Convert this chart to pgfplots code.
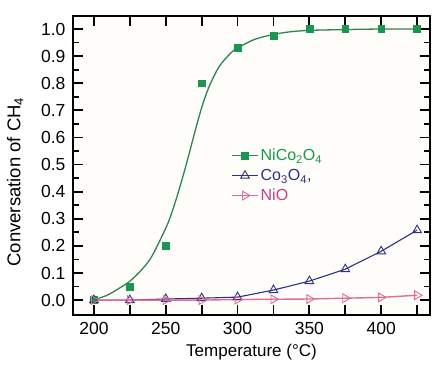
\documentclass[border=0pt]{standalone}
\usepackage{pgfplots}
\pgfplotsset{compat=1.18}
\usepackage{fontspec}
\setmainfont{Liberation Sans}
\definecolor{bgc}{RGB}{255,253,249}
\definecolor{gmark}{RGB}{26,150,80}
\definecolor{gline}{RGB}{50,130,85}
\definecolor{navy}{RGB}{45,50,125}
\definecolor{pinkl}{RGB}{220,110,155}
\definecolor{pinkt}{RGB}{200,60,130}
\begin{document}
\begin{tikzpicture}
\path[use as bounding box, fill=white] (-73pt,-50pt) rectangle (366pt,315pt);
\begin{axis}[
  scale only axis, width=357pt, height=299pt,
  xmin=185.4, xmax=434, ymin=-0.055, ymax=1.048,
  axis background/.style={fill=bgc},
  axis line style={line width=1.8pt},
  xtick={200,225,...,425},
  xticklabels={200,,250,,300,,350,,400,},
  ytick={0,0.1,...,1.0},
  minor ytick={0.05,0.15,...,0.95},
  yticklabel style={/pgf/number format/fixed, /pgf/number format/fixed zerofill, /pgf/number format/precision=1},
  /pgf/number format/assume math mode=true,
  tick align=inside,
  major tick length=10pt, minor tick length=6pt,
  every tick/.style={line width=1.8pt, black},
  tick label style={font=\fontsize{17.5}{17.5}\selectfont},
  xticklabel style={yshift=-4pt},
  yticklabel style={xshift=-4pt},
  xlabel={Temperature (°C)},
  xlabel style={font=\fontsize{17}{17}\selectfont, at={(axis description cs:0.5,-0.125)}, anchor=center},
  ylabel={Conversation of CH\textsubscript{4}},
  ylabel style={font=\fontsize{18.5}{18.5}\selectfont, at={(axis description cs:-0.162,0.445)}, anchor=center},
  legend style={draw=none, fill=none, at={(axis description cs:0.44,0.565)}, anchor=north west,
    font=\fontsize{16}{16}\selectfont, row sep=3pt, inner sep=1pt},
  legend cell align=left,
  legend image code/.code={\draw[#1] (0pt,0pt) -- (26pt,0pt); \draw[#1, mark repeat=1, mark phase=1] plot coordinates {(13pt,0pt)};},
]
% fitted curve
\addplot[gline, line width=1.3pt, smooth, tension=0.5, forget plot] coordinates {
(203,0.006) (210,0.02) (218,0.045) (225,0.07) (232,0.105) (239,0.15) (245,0.21)
(252,0.29) (258,0.385) (264,0.495) (270,0.615) (275,0.71) (280,0.785) (287,0.86)
(295,0.91) (300,0.93) (312,0.962) (325,0.98) (337,0.99) (350,0.995) (375,0.998) (400,1.0) (425,1.0)};
\addplot[only marks, mark=square*, mark size=3.4pt, gmark, forget plot] coordinates {
(200,0.0) (225,0.05) (250,0.20) (275,0.80) (300,0.93) (325,0.975) (350,1.0) (375,1.0) (400,1.0) (425,1.0)};
\addlegendimage{gline, line width=1.3pt, mark=square*, mark size=3.4pt, mark options={gmark}}
\addlegendentry{\textcolor{gmark}{NiCo\textsubscript{2}O\textsubscript{4}}}
\addplot[navy, line width=1.1pt, mark=triangle, mark size=5pt, mark options={fill=white, line width=0.9pt}] coordinates {
(200,0.0) (225,0.0) (250,0.004) (275,0.007) (300,0.011) (325,0.037) (350,0.07) (375,0.114) (400,0.18) (425,0.258)};
\addlegendentry{\textcolor{navy}{Co\textsubscript{3}O\textsubscript{4},}}
\addplot[pinkl, line width=1.4pt, mark=triangle, mark size=5pt, mark options={rotate=-90, fill=white, line width=0.9pt}] coordinates {
(200,0.0) (225,0.0) (250,0.0) (275,0.0) (300,0.002) (325,0.003) (350,0.004) (375,0.007) (400,0.01) (425,0.018)};
\addlegendentry{\textcolor{pinkt}{NiO}}
\end{axis}
\end{tikzpicture}
\end{document}
